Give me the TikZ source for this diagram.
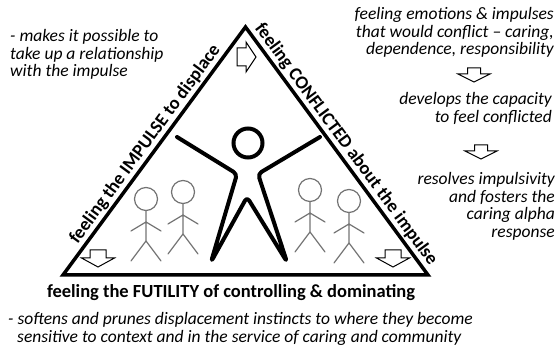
\documentclass[tikz,border=0pt]{standalone}
\usepackage{fontspec}
\setmainfont{Carlito}
\usetikzlibrary{positioning}

\tikzset{
  sidelabel/.style={font=\bfseries\fontsize{18.5}{20}\selectfont, inner sep=1.5pt},
  note/.style={font=\itshape\fontsize{17.5}{17.5}\selectfont, inner sep=0pt},
  triline/.style={line width=3.5pt, line join=miter},
  smallfig/.style={draw=black!55, line width=1.2pt},
  bigfig/.style={line width=4pt, line cap=round, line join=round,
    rounded corners=4pt},
  % hollow block arrow, pointing along +y: head half width, shaft half
  % width, shaft length, head length
  pics/hollowarrow/.style n args={4}{code={
      \draw[line width=1pt, fill=white, line join=miter]
      (-#2,0) -- (-#2,#3) -- (-#1,#3) -- (0,#3+#4) -- (#1,#3)
      -- (#2,#3) -- (#2,0) -- cycle;
  }},
  % small stick figure, origin at the centre of the head
  pics/stickman/.style={code={
      \draw[smallfig] (0,0) circle[radius=11.5];
      \draw[smallfig, line join=round]
      (0,11.5) -- (0,42)
      (-15,32) -- (0,23) -- (15,32)
      (-15,62) -- (0,42) -- (15,62);
  }}
}

\begin{document}
\begin{tikzpicture}[x=1pt, y=-1pt, line cap=round]

    \useasboundingbox (0,0) rectangle (558,352);

    % ------------------ Layout ------------------
    \def\apexX{245.5}
    \def\apexY{27}
    \def\baseY{275}
    \def\halfBase{182.5}

    \coordinate (apex) at (\apexX,\apexY);
    \coordinate (bl) at (\apexX-\halfBase,\baseY);
    \coordinate (br) at (\apexX+\halfBase,\baseY);

    % ------------------ Triangle with its side labels ------------------
    \draw[triline] (bl)
    -- node[sidelabel, sloped, above] (impulselabel)
    {feeling the IMPULSE to displace} (apex)
    -- node[sidelabel, sloped, above] (conflictlabel)
    {feeling CONFLICTED about the impulse} (br)
    -- cycle;

    \node[sidelabel, anchor=base] (futilitylabel) at (231,298)
    {feeling the FUTILITY of controlling \& dominating};

    % ------------------ Corner arrows ------------------
    \pic[rotate=90] at (237,57) {hollowarrow={15}{9}{9}{10}};
    \pic at (98,250) {hollowarrow={16.5}{8}{8}{9}};
    \pic at (393,250) {hollowarrow={16.5}{8}{8}{9}};

    % ------------------ Crowd ------------------
    \pic at (146,199) {stickman};
    \pic at (183,192) {stickman};
    \pic at (310,190) {stickman};
    \pic at (349,201) {stickman};

    % ------------------ Central figure ------------------
    \draw[line width=4pt] (248,143) circle[radius=14.5];
    \draw[bigfig]
    (177,137) -- (237,174) -- (211,262) -- (247,197)
    -- (287,262) -- (258,174) -- (320,137);

    % ------------------ Notes ------------------
    \node[note, align=left, anchor=north west] (relnote) at (10,29.5)
    {- makes it possible to\\take up a relationship\\with the impulse};

    \node[note, align=right, anchor=north east] (emotionnote) at (554,7.5)
    {feeling emotions \& impulses\\that would conflict -- caring,\\
      dependence, responsibility};
    \pic at (474,68) {hollowarrow={16}{6.5}{6}{8}};

    \node[note, align=right, anchor=north east] (capacitynote) at (552,92.5)
    {develops the capacity\\to feel conflicted};
    \pic at (481,145) {hollowarrow={16}{6.5}{6}{8}};

    \node[note, align=right, anchor=north east] (alphanote) at (555,172.5)
    {resolves impulsivity\\and fosters the\\caring alpha\\response};

    \node[note, align=left, anchor=north west] (prunenote) at (8,312.5)
    {- softens and prunes displacement instincts to where they become\\
      \hspace*{9pt}sensitive to context and in the service of caring and
      community};

\end{tikzpicture}
\end{document}
